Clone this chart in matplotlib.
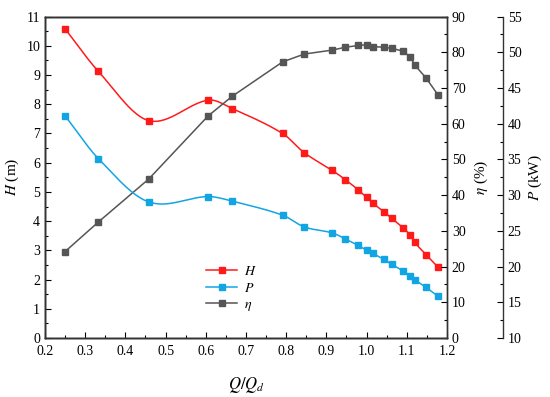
import matplotlib
matplotlib.use("Agg")
import matplotlib.pyplot as plt
import numpy as np
from matplotlib.ticker import MultipleLocator, FormatStrFormatter

plt.rcParams["font.family"] = ["Liberation Serif", "DejaVu Serif"]
plt.rcParams["mathtext.fontset"] = "stix"

# flow ratio Q/Qd
q = [0.25, 0.333, 0.458, 0.606, 0.666, 0.791, 0.845, 0.914, 0.947, 0.979,
     1.0, 1.016, 1.043, 1.063, 1.091, 1.109, 1.12, 1.148, 1.178]
# head H (m)
head = [10.58, 9.12, 7.44, 8.14, 7.85, 7.0, 6.34, 5.74, 5.42, 5.07,
        4.81, 4.61, 4.32, 4.09, 3.77, 3.51, 3.27, 2.85, 2.42]
# shaft power P (kW)
power = [41.1, 35.1, 29.05, 29.8, 29.15, 27.2, 25.55, 24.72, 23.88, 22.95,
         22.3, 21.83, 21.0, 20.3, 19.4, 18.66, 18.15, 17.08, 15.83]
# efficiency eta (%)
eta = [24.2, 32.5, 44.5, 62.2, 67.7, 77.3, 79.5, 80.6, 81.4, 81.9,
       82.1, 81.6, 81.4, 81.1, 80.3, 78.6, 76.4, 72.8, 68.0]

RED, BLUE, GREY = "#ff1a1a", "#12a5e3", "#555555"


def smooth(x, y, n=30):
    """cubic Hermite line through the points (finite-difference tangents), drawing only"""
    x, y = np.asarray(x, float), np.asarray(y, float)
    d = np.empty_like(y)
    d[1:-1] = (y[2:] - y[:-2]) / (x[2:] - x[:-2])
    d[0] = (y[1] - y[0]) / (x[1] - x[0])
    d[-1] = (y[-1] - y[-2]) / (x[-1] - x[-2])
    xs_all, ys_all = [], []
    for i in range(len(x) - 1):
        h = x[i + 1] - x[i]
        t = np.linspace(0, 1, n, endpoint=(i == len(x) - 2))
        h00 = 2 * t**3 - 3 * t**2 + 1
        h10 = t**3 - 2 * t**2 + t
        h01 = -2 * t**3 + 3 * t**2
        h11 = t**3 - t**2
        xs_all.append(x[i] + t * h)
        ys_all.append(h00 * y[i] + h10 * h * d[i] + h01 * y[i + 1] + h11 * h * d[i + 1])
    return np.concatenate(xs_all), np.concatenate(ys_all)


fig = plt.figure(figsize=(5.5, 3.97), dpi=100)
ax = fig.add_axes([0.0818, 0.1486, 0.7309, 0.8097])
ax_e = ax.twinx()
ax_p = ax.twinx()
ax_p.spines["right"].set_position(("axes", 1.139))

lw, ms = 1.1, 4
xs, ys = smooth(q, head)
ax.plot(xs, ys, color=RED, lw=lw)
ax.plot(q, head, "s", color=RED, ms=ms)
xs, ys = smooth(q, power)
ax_p.plot(xs, ys, color=BLUE, lw=lw)
ax_p.plot(q, power, "s", color=BLUE, ms=ms)
ax_e.plot(q, eta, "-s", color=GREY, lw=lw, ms=ms)

ax.set_xlim(0.2, 1.2)
ax.set_ylim(0, 11)
ax_e.set_ylim(0, 90)
ax_p.set_ylim(10, 55)

ax.xaxis.set_major_locator(MultipleLocator(0.1))
ax.xaxis.set_minor_locator(MultipleLocator(0.05))
ax.yaxis.set_major_locator(MultipleLocator(1))
ax.yaxis.set_minor_locator(MultipleLocator(0.5))
ax_e.yaxis.set_major_locator(MultipleLocator(10))
ax_e.yaxis.set_minor_locator(MultipleLocator(5))
ax_p.yaxis.set_major_locator(MultipleLocator(5))
ax_p.yaxis.set_minor_locator(MultipleLocator(2.5))

for a in (ax, ax_e, ax_p):
    a.tick_params(which="major", direction="in", length=4, width=0.8, labelsize=10)
    a.tick_params(which="minor", direction="in", length=2, width=0.8)
    for s in a.spines.values():
        s.set_linewidth(1.0)
        s.set_color("#333333")
ax.tick_params(axis="x", top=False, which="both")
ax.tick_params(axis="x", pad=5)
ax.xaxis.set_major_formatter(FormatStrFormatter("%.1f"))

ax.set_xlabel(r"$Q/Q_d$", fontsize=12, labelpad=12)
ax.set_ylabel(r"$H$ (m)", fontsize=11, labelpad=4)
ax_e.set_ylabel(r"$\eta$ (%)", fontsize=11, labelpad=5)
ax_p.set_ylabel(r"$P$ (kW)", fontsize=11, labelpad=4)

handles = [
    plt.Line2D([], [], color=RED, marker="s", lw=lw, ms=ms),
    plt.Line2D([], [], color=BLUE, marker="s", lw=lw, ms=ms),
    plt.Line2D([], [], color=GREY, marker="s", lw=lw, ms=ms),
]
ax.legend(handles, [r"$H$", r"$P$", r"$\eta$"], loc="upper left",
          bbox_to_anchor=(0.37, 0.265), frameon=False, fontsize=10,
          handlelength=2.2, labelspacing=0.25, handletextpad=0.5)

fig.savefig("out.png", dpi=100)
